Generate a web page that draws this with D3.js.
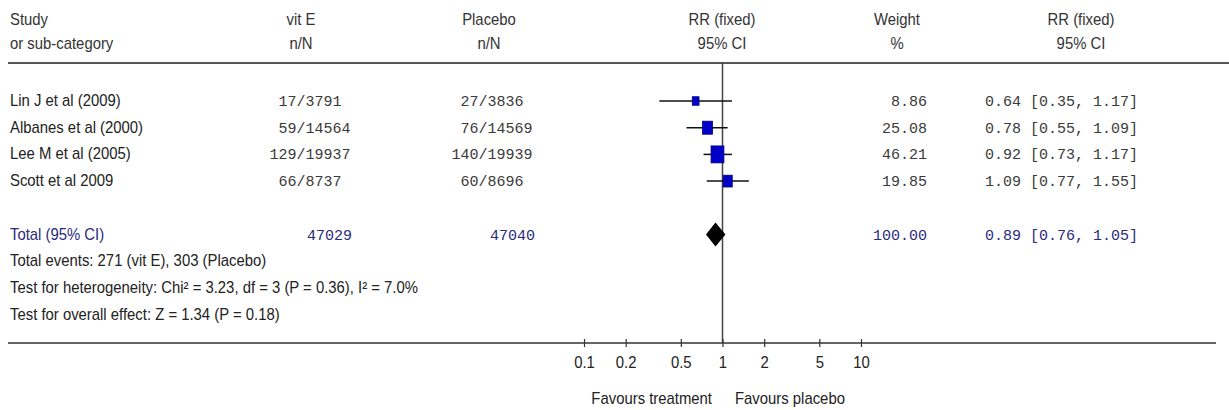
<!DOCTYPE html>
<html><head><meta charset="utf-8">
<script src="https://cdn.jsdelivr.net/npm/d3@7"></script>
<style>
html,body{margin:0;padding:0;background:#fff;}
svg text{font-family:"Liberation Sans",Arial,sans-serif;}
.mono{font-family:"Liberation Mono","Courier New",monospace !important;}
</style></head>
<body>
<svg id="c" width="1229" height="410"></svg>
<script>
const studies = ["Lin J et al (2009)","Albanes et al (2000)","Lee M et al (2005)","Scott et al 2009"];
const vitE_n = [17,59,129,66];
const vitE_N = [3791,14564,19937,8737];
const plac_n = [27,76,140,60];
const plac_N = [3836,14569,19939,8696];
const weights = ["8.86","25.08","46.21","19.85"];
const rr = [0.64,0.78,0.92,1.09];
const lo = [0.35,0.55,0.73,0.77];
const hi = [1.17,1.09,1.17,1.55];
const total = {label:"Total (95% CI)", vitE:"47029", plac:"47040", weight:"100.00", rr:0.89, lo:0.76, hi:1.05};
const footnotes = ["Total events: 271 (vit E), 303 (Placebo)",
  "Test for heterogeneity: Chi² = 3.23, df = 3 (P = 0.36), I² = 7.0%",
  "Test for overall effect: Z = 1.34 (P = 0.18)"];
const tickVals = [0.1,0.2,0.5,1,2,5,10];
const headers1 = ["Study","vit E","Placebo","RR (fixed)","Weight","RR (fixed)"];
const headers2 = ["or sub-category","n/N","n/N","95% CI","%","95% CI"];

const svg = d3.select("#c");
const x = d3.scaleLog().domain([0.1,10]).range([584,861]);
const y = d3.scaleLinear().domain([0,1]).range([101,127.7]);
const axisY = 343, topY = 63;
const fmt = d3.format(".2f");
const SX = 0.93, FS = 16;

function label(px, py, txt, anchor, color){
  return svg.append("text").attr("transform",`translate(${px},${py}) scale(${SX},1)`)
    .attr("text-anchor",anchor||"start").attr("font-size",FS).attr("fill",color||"#222").text(txt);
}
function mono(px, py, txt, anchor, color){
  return svg.append("text").attr("class","mono").attr("x",px).attr("y",py)
    .attr("text-anchor",anchor||"start").attr("font-size",15).attr("fill",color||"#3a3a3a").text(txt);
}

// headers
const hx = [10,301,489,722,897,1081];
const ha = ["start","middle","middle","middle","middle","middle"];
headers1.forEach((h,i)=>label(hx[i],25,h,ha[i],"#333"));
headers2.forEach((h,i)=>label(hx[i],49,h,ha[i],"#333"));

// separators
svg.append("line").attr("x1",8).attr("x2",1229).attr("y1",topY).attr("y2",topY)
  .attr("stroke","#555").attr("stroke-width",2.2);
svg.append("line").attr("x1",8).attr("x2",1216).attr("y1",axisY).attr("y2",axisY)
  .attr("stroke","#333").attr("stroke-width",1.6);
// line of no effect
svg.append("line").attr("x1",x(1)).attr("x2",x(1)).attr("y1",topY).attr("y2",axisY)
  .attr("stroke","#444").attr("stroke-width",1.5);

studies.forEach((s,i)=>{
  const yy = y(i);
  label(10, yy+5, s);
  mono(296.5, yy+5, vitE_n[i], "end");
  mono(296.5, yy+5, "/"+vitE_N[i]);
  mono(478.5, yy+5, plac_n[i], "end");
  mono(478.5, yy+5, "/"+plac_N[i]);
  mono(927, yy+5, weights[i], "end");
  mono(985, yy+5, `${fmt(rr[i])} [${fmt(lo[i])}, ${fmt(hi[i])}]`);
  // CI
  svg.append("line").attr("x1",x(lo[i])).attr("x2",x(hi[i])).attr("y1",yy).attr("y2",yy)
    .attr("stroke","#111").attr("stroke-width",1.5);
  const w = +weights[i];
  const bw = 1.6*Math.sqrt(w)+2, bh = 2.2*Math.sqrt(w)+2;
  svg.append("rect").attr("x",x(rr[i])-bw/2).attr("y",yy-bh/2).attr("width",bw).attr("height",bh)
    .attr("fill","#0000c8").attr("stroke","#000080").attr("stroke-width",0.8);
});

// total
const ty = y(5);
const totCol = "#2a2a80";
label(10, ty+5, total.label, "start", totCol);
mono(352, ty+5, total.vitE, "end", totCol);
mono(535, ty+5, total.plac, "end", totCol);
mono(927, ty+5, total.weight, "end", totCol);
mono(985, ty+5, `${fmt(total.rr)} [${fmt(total.lo)}, ${fmt(total.hi)}]`, "start", totCol);
const dh = 12;
svg.append("path").attr("d",`M${x(total.lo)},${ty} L${x(total.rr)},${ty-dh} L${x(total.hi)},${ty} L${x(total.rr)},${ty+dh} Z`)
  .attr("fill","#000");

footnotes.forEach((f,i)=>label(10, y(6+i)+5, f));

// axis
const ax = svg.append("g").attr("transform",`translate(0,${axisY})`)
  .call(d3.axisBottom(x).tickValues(tickVals).tickFormat(d=>String(d)).tickSize(4).tickPadding(10));
ax.select(".domain").remove();
ax.selectAll(".tick line").attr("y1",-4).attr("y2",4).attr("stroke","#333").attr("stroke-width",1.2);
ax.selectAll(".tick text").attr("font-size",FS).attr("fill","#222")
  .attr("font-family","Liberation Sans, Arial, sans-serif").attr("transform",`scale(${SX},1)`);

label(712, 404, "Favours treatment", "end");
label(735, 404, "Favours placebo", "start");
</script>
</body></html>
